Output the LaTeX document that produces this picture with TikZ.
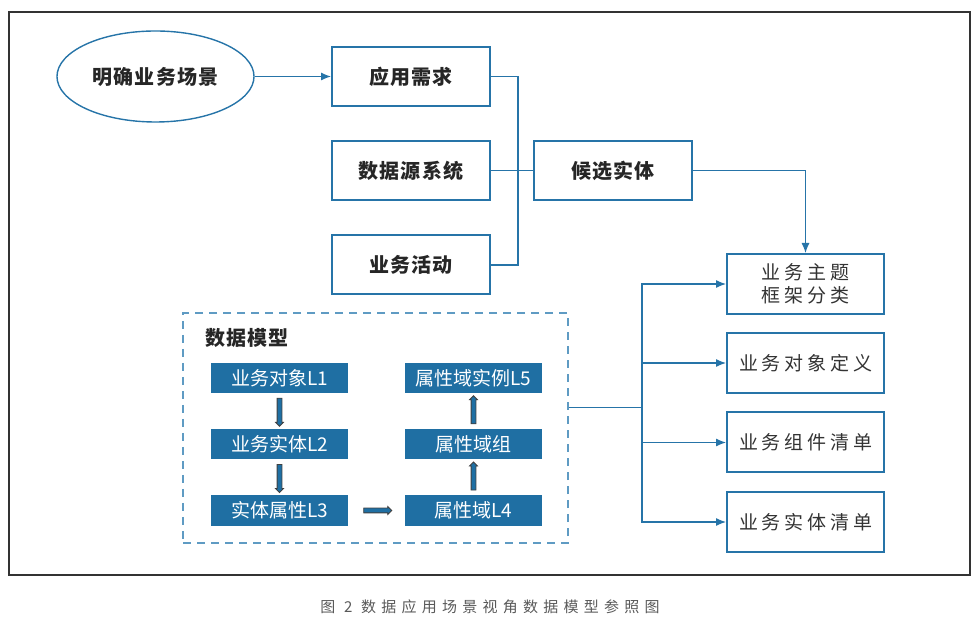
\documentclass[tikz,border=0pt]{standalone}
\usepackage{fontspec}
\setmainfont{Noto Sans CJK SC}
\newfontfamily\boldcjk[LetterSpace=6]{Noto Sans CJK SC}
\newfontfamily\widecjk[LetterSpace=20]{Noto Sans CJK SC}
\newfontfamily\capcjk[LetterSpace=35]{Noto Sans CJK SC}
\usetikzlibrary{arrows.meta,shapes.geometric,shapes.arrows}
\definecolor{lineblue}{RGB}{38,116,168}
\definecolor{fillblue}{RGB}{31,111,163}
\definecolor{dashblue}{RGB}{95,155,195}

\begin{document}
\begin{tikzpicture}[x=0.5pt, y=-0.5pt]
    \tikzstyle{every node}=[align=center]
    \tikzstyle{mainbox}=[draw=lineblue, line width=1pt, minimum width=79pt, minimum height=29.5pt,
        text=black!85, font=\boldcjk\bfseries\fontsize{10pt}{12pt}\selectfont]
    \tikzstyle{outbox}=[draw=lineblue, line width=1pt, minimum width=78.5pt, minimum height=30pt,
        text=black!80, font=\widecjk\fontsize{9.5pt}{11.5pt}\selectfont]
    \tikzstyle{layer}=[fill=fillblue, minimum width=68.5pt, minimum height=15pt, inner sep=0pt,
        text=white, font=\fontsize{9.5pt}{11pt}\selectfont]
    \tikzstyle{link}=[draw=lineblue, line width=0.6pt]
    \tikzstyle{tip}=[-{Latex[length=5pt,width=4pt]}]
    \tikzstyle{fatarrow}=[single arrow, draw=black!75, fill=fillblue, line width=0.4pt, inner sep=1pt,
        minimum height=14pt, single arrow head extend=0.8pt]
    \useasboundingbox (0,0) rectangle (980,625);
    \draw[line width=1.2pt, black!80] (9,12) rectangle (970,575);

    \node[ellipse, draw=lineblue, line width=0.7pt, minimum width=96.5pt, minimum height=45.5pt,
        font=\boldcjk\bfseries\fontsize{10pt}{12pt}\selectfont, text=black!85] (scene) at (155.5,76.5) {明确业务场景};
    \node[mainbox] (req) at (411,76.5) {应用需求};
    \node[mainbox] (src) at (411,170.5) {数据源系统};
    \node[mainbox] (act) at (411,265) {业务活动};
    \node[mainbox] (cand) at (613,170.5) {候选实体};

    \node[outbox] (theme) at (805.5,284) {业务主题\\框架分类};
    \node[outbox] (objdef) at (805.5,363) {业务对象定义};
    \node[outbox] (comp) at (805.5,442.5) {业务组件清单};
    \node[outbox] (ent) at (805.5,522) {业务实体清单};

    \node[draw=dashblue, line width=0.6pt, dash pattern=on 4pt off 3pt, minimum width=192.5pt,
        minimum height=115pt] (model) at (375.5,428) {};
    \node[anchor=west, inner sep=0pt, text=black!85, font=\boldcjk\bfseries\fontsize{10pt}{12pt}\selectfont]
        (mtitle) at (205,338) {数据模型};
    \node[layer] (l1) at (279.5,378) {业务对象L1};
    \node[layer] (l2) at (279.5,444) {业务实体L2};
    \node[layer] (l3) at (279.5,510.5) {实体属性L3};
    \node[layer] (l4) at (473.5,510.5) {属性域L4};
    \node[layer] (grp) at (473.5,444) {属性域组};
    \node[layer] (l5) at (473.5,378) {属性域实例L5};

    \path (l1) -- node[fatarrow, rotate=-90] {} (l2);
    \path (l2) -- node[fatarrow, rotate=-90] {} (l3);
    \path (l3) -- node[fatarrow] {} (l4);
    \path (l4) -- node[fatarrow, rotate=90] {} (grp);
    \path (grp) -- node[fatarrow, rotate=90] {} (l5);

    \draw[link, tip] (scene) -- (req);
    \draw[link] (req.east) -- ++(27,0) |- (act.east);
    \draw[link] (src.east) -- (cand.west);
    \draw[link, tip] (cand.east) -| (theme.north);

    \coordinate (split) at (642,407.7);
    \draw[link] (model.east |- split) -- (split);
    \foreach \t in {theme,objdef,comp,ent}
        \draw[link, tip] (split) |- (\t.west);

    \node[text=black!65, font=\capcjk\fontsize{7.5pt}{9pt}\selectfont] (cap) at (490,607)
        {图 2 数据应用场景视角数据模型参照图};
\end{tikzpicture}
\end{document}
